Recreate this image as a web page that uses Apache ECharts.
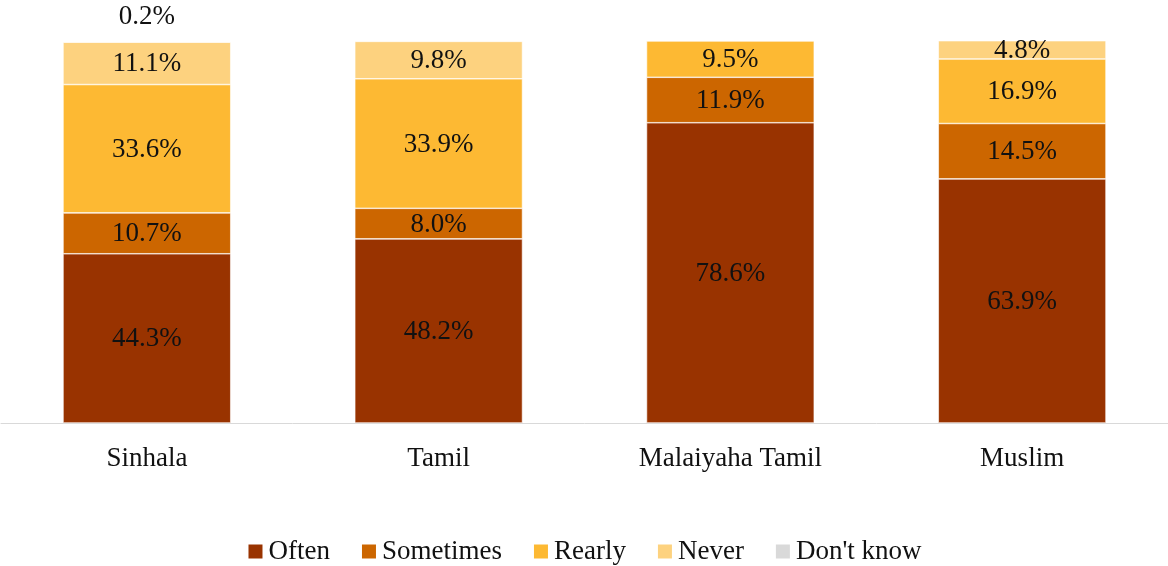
<!DOCTYPE html>
<html>
<head>
<meta charset="utf-8">
<script src="https://cdn.jsdelivr.net/npm/echarts@6/dist/echarts.min.js"></script>
<style>
  html, body { margin: 0; padding: 0; background: #fff; }
  #chart { width: 1168px; height: 566px; }
</style>
</head>
<body>
<div id="chart"></div>
<script>
// 各族群的回答分布（%）
var categories = ['Sinhala', 'Tamil', 'Malaiyaha Tamil', 'Muslim'];
var often = [44.3, 48.2, 78.6, 63.9];
var sometimes = [10.7, 8.0, 11.9, 14.5];
var rearly = [33.6, 33.9, 9.5, 16.9];
var never = [11.1, 9.8, null, 4.8];
var dontKnow = [0.2, null, null, null];

var seriesNames = ['Often', 'Sometimes', 'Rearly', 'Never', "Don't know"];
var seriesData = [often, sometimes, rearly, never, dontKnow];
var colors = ['#993300', '#CC6600', '#FDB933', '#FDD27F', '#D9D9D9'];

var fontFamily = '"Liberation Serif", serif';

var myChart = echarts.init(document.getElementById('chart'));

var series = seriesNames.map(function (name, i) {
    return {
        name: name,
        type: 'bar',
        stack: 'total',
        barWidth: '57.5%',
        data: seriesData[i],
        itemStyle: {
            color: colors[i],
            borderColor: '#fff',
            borderWidth: 0.6
        },
        label: {
            show: true,
            position: i === 4 ? 'top' : 'inside',
            distance: i === 4 ? 11 : 5,
            offset: i === 4 ? [0, 0] : [0, 1],
            color: '#111',
            fontSize: 27,
            fontFamily: fontFamily,
            formatter: function (p) {
                if (p.value == null) return '';
                return p.value.toFixed(1) + '%';
            }
        }
    };
});

var option = {
    animation: false,
    grid: {
        left: 1,
        right: 0,
        top: 41,
        bottom: 143
    },
    legend: {
        top: 533,
        itemWidth: 16,
        itemHeight: 16,
        itemGap: 30,
        icon: 'rect',
        textStyle: {
            color: '#111',
            fontSize: 27,
            fontFamily: fontFamily
        },
        data: seriesNames
    },
    xAxis: {
        type: 'category',
        data: categories,
        axisLine: { lineStyle: { color: '#D9D9D9' } },
        axisTick: { show: false },
        axisLabel: {
            margin: 22,
            color: '#111',
            fontSize: 27,
            fontFamily: fontFamily
        }
    },
    yAxis: {
        type: 'value',
        min: 0,
        max: 100,
        show: false
    },
    series: series
};

myChart.setOption(option, true);
</script>
</body>
</html>
